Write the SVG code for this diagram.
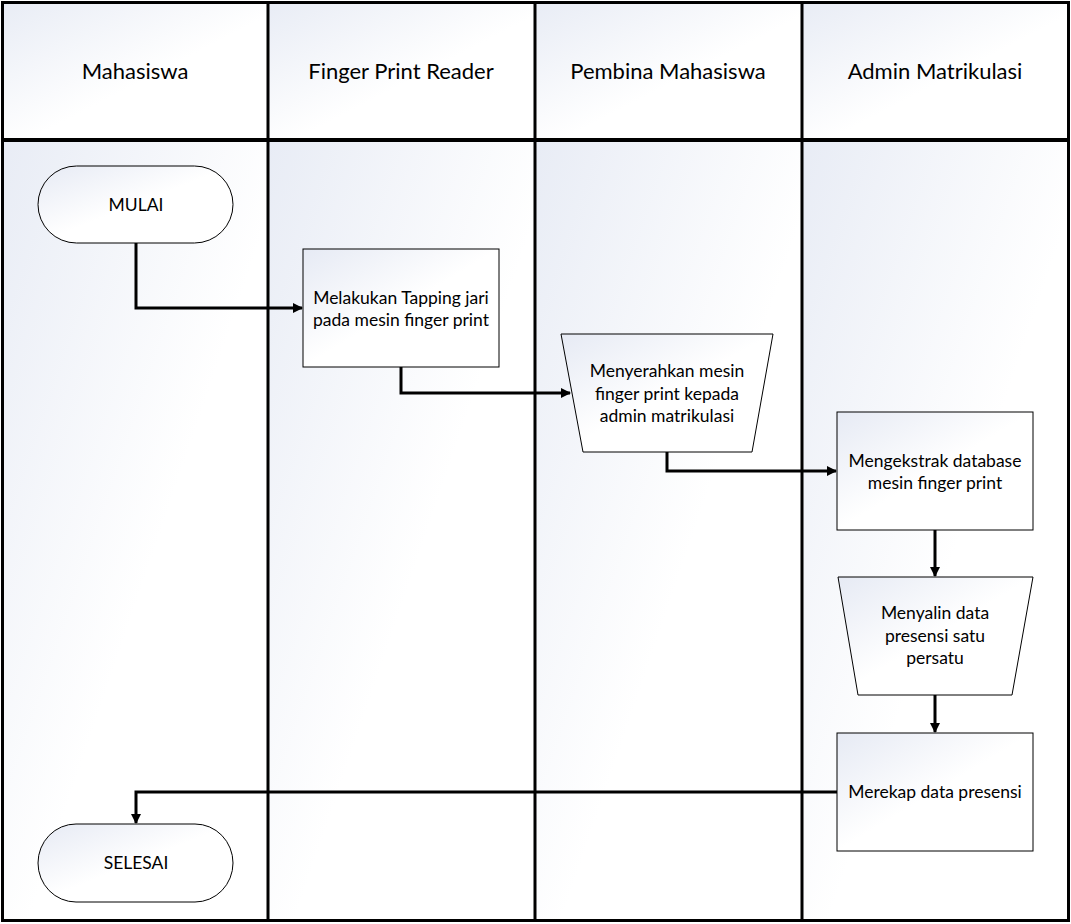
<svg xmlns="http://www.w3.org/2000/svg" width="1071" height="924" viewBox="0 0 1071 924">
<defs>
<linearGradient id="bg" x1="0" y1="0" x2="1" y2="1">
<stop offset="0" stop-color="#e8ecf5"/>
<stop offset="0.55" stop-color="#ffffff"/>
<stop offset="1" stop-color="#ffffff"/>
</linearGradient>
<linearGradient id="nf" x1="0" y1="0" x2="1" y2="1">
<stop offset="0" stop-color="#e6eaf4"/>
<stop offset="0.5" stop-color="#ffffff"/>
<stop offset="1" stop-color="#ffffff"/>
</linearGradient>
<marker id="ah" markerWidth="10" markerHeight="10" refX="9" refY="5" orient="auto" markerUnits="userSpaceOnUse">
<path d="M0,0 L10,5 L0,10 Z" fill="#000"/>
</marker>
<style>
.lane{fill:url(#bg);stroke:none}
.grid{stroke:#000;stroke-width:3;fill:none}
.hd{font-family:Lato,"Liberation Sans",sans-serif;font-size:22px;fill:#000;text-anchor:middle}
.node{fill:url(#nf);stroke:#000;stroke-width:1}
.tx{font-family:Lato,"Liberation Sans",sans-serif;font-size:17.5px;fill:#000;text-anchor:middle}
.cn{stroke:#000;stroke-width:3;fill:none;marker-end:url(#ah)}
</style>
</defs>
<g id="lanes">
<rect class="lane" x="2" y="2" width="266" height="138"/>
<rect class="lane" x="268" y="2" width="267" height="138"/>
<rect class="lane" x="535" y="2" width="267" height="138"/>
<rect class="lane" x="802" y="2" width="266" height="138"/>
<rect class="lane" x="2" y="140" width="266" height="781"/>
<rect class="lane" x="268" y="140" width="267" height="781"/>
<rect class="lane" x="535" y="140" width="267" height="781"/>
<rect class="lane" x="802" y="140" width="266" height="781"/>
<rect class="grid" x="2.5" y="2.5" width="1066" height="918"/>
<line class="grid" x1="268" y1="2" x2="268" y2="921"/>
<line class="grid" x1="535" y1="2" x2="535" y2="921"/>
<line class="grid" x1="802" y1="2" x2="802" y2="921"/>
<line x1="2" y1="140" x2="1068" y2="140" stroke="#000" stroke-width="4"/>
<text class="hd" x="135" y="79">Mahasiswa</text>
<text class="hd" x="401" y="79">Finger Print Reader</text>
<text class="hd" x="668" y="79">Pembina Mahasiswa</text>
<text class="hd" x="935" y="79">Admin Matrikulasi</text>
</g>
<g id="connectors">
<polyline class="cn" points="136,243 136,308 302,308"/>
<polyline class="cn" points="401,367 401,393 570,393"/>
<polyline class="cn" points="667,452 667,471 836,471"/>
<polyline class="cn" points="935,530 935,576"/>
<polyline class="cn" points="935,695 935,732"/>
<polyline class="cn" points="837,792 136,792 136,823"/>
</g>
<g id="mulai">
<rect class="node" x="38" y="166" width="195" height="77" rx="38.5" ry="38.5"/>
<text class="tx" x="136" y="211">MULAI</text>
</g>
<g id="tapping">
<rect class="node" x="303" y="249" width="196" height="118"/>
<text class="tx" x="401" y="304">Melakukan Tapping jari</text>
<text class="tx" x="401" y="326">pada mesin finger print</text>
</g>
<g id="menyerahkan">
<polygon class="node" points="561,334 773,334 752,452 583,452"/>
<text class="tx" x="667" y="377">Menyerahkan mesin</text>
<text class="tx" x="667" y="400">finger print kepada</text>
<text class="tx" x="667" y="422">admin matrikulasi</text>
</g>
<g id="mengekstrak">
<rect class="node" x="837" y="412" width="196" height="118"/>
<text class="tx" x="935" y="467">Mengekstrak database</text>
<text class="tx" x="935" y="489">mesin finger print</text>
</g>
<g id="menyalin">
<polygon class="node" points="838,577 1033,577 1012,695 858,695"/>
<text class="tx" x="935" y="619">Menyalin data</text>
<text class="tx" x="935" y="642">presensi satu</text>
<text class="tx" x="935" y="664">persatu</text>
</g>
<g id="merekap">
<rect class="node" x="837" y="733" width="196" height="118"/>
<text class="tx" x="935" y="798">Merekap data presensi</text>
</g>
<g id="selesai">
<rect class="node" x="38" y="824" width="195" height="78" rx="38" ry="39"/>
<text class="tx" x="136" y="869">SELESAI</text>
</g>
</svg>
